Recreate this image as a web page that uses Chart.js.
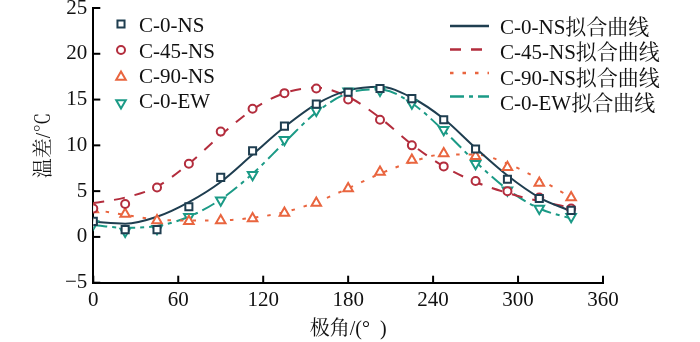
<!DOCTYPE html>
<html><head><meta charset="utf-8">
<script src="https://cdn.jsdelivr.net/npm/chart.js@4/dist/chart.umd.min.js"></script>
<style>html,body{margin:0;padding:0;background:#fff}</style>
</head><body>
<canvas id="c" width="700" height="342" style="width:700px;height:342px;display:block"></canvas>
<script>
// ---- data ----
const angles = [0, 22.5, 45, 67.5, 90, 112.5, 135, 157.5, 180, 202.5, 225, 247.5, 270, 292.5, 315, 337.5];
const xTicks = [0, 60, 120, 180, 240, 300, 360];
const yTicks = [-5, 0, 5, 10, 15, 20, 25];

const seriesNames = ['C-0-NS', 'C-45-NS', 'C-90-NS', 'C-0-EW'];
const fitNames = ['C-0-NS拟合曲线', 'C-45-NS拟合曲线', 'C-90-NS拟合曲线', 'C-0-EW拟合曲线'];

const ns0  = [1.7, 0.8, 0.8, 3.3, 6.5, 9.4, 12.1, 14.5, 15.8, 16.2, 15.1, 12.8, 9.6, 6.3, 4.2, 2.9];
const ns45 = [3.1, 3.6, 5.4, 8.0, 11.5, 14.0, 15.7, 16.2, 15.0, 12.8, 10.0, 7.7, 6.1, 5.0, 4.3, 3.1];
const ns90 = [3.0, 2.5, 1.8, 1.7, 1.8, 2.0, 2.6, 3.7, 5.3, 7.1, 8.4, 9.1, 8.8, 7.6, 5.9, 4.3];
const ew0  = [1.4, 0.6, 0.9, 2.2, 4.0, 6.8, 10.6, 13.8, 15.9, 16.0, 14.6, 11.7, 8.0, 5.1, 3.1, 2.2];

const fitNs0  = [1.65, 1.45, 2.2, 3.8, 6.0, 9.0, 12.0, 14.5, 16.0, 16.4, 15.2, 12.9, 9.7, 6.7, 4.3, 2.8];
const fitNs45 = [3.7, 4.3, 5.5, 8.0, 11.1, 13.9, 15.7, 16.3, 15.3, 13.0, 10.1, 7.7, 6.0, 4.8, 3.9, 3.2];
const fitNs90 = [3.0, 2.4, 1.9, 1.8, 1.8, 2.1, 2.7, 3.8, 5.3, 6.9, 8.2, 9.0, 9.0, 8.0, 6.3, 4.3];
const fitEw0  = [1.3, 1.0, 1.2, 2.2, 4.1, 6.9, 10.3, 13.6, 15.7, 16.1, 14.6, 11.6, 8.2, 5.2, 3.1, 2.0];

// ---- styles ----
const C_NS0 = '#1f3e50', C_NS45 = '#b32d3d', C_NS90 = '#e9653f', C_EW0 = '#1b9a86';
const SERIF = '"Liberation Serif", "Times New Roman", "Noto Serif CJK SC", "Noto Sans CJK SC", serif';

const pts = (arr) => arr.map((v, i) => ({x: angles[i], y: v}));

function scatterDs(label, data, color, style, rotation, radius) {
  return {label, data: pts(data), showLine: false, pointStyle: style, rotation,
    pointRadius: radius, pointHoverRadius: radius, pointBorderWidth: 2,
    pointBorderColor: color, pointBackgroundColor: '#ffffff', borderColor: color, order: 0};
}
function fitDs(label, data, color, dash) {
  return {label, data: pts(data), showLine: true, pointRadius: 0, borderWidth: 2,
    borderColor: color, borderDash: dash, cubicInterpolationMode: 'monotone',
    borderCapStyle: 'butt', fill: false, order: 1};
}

const datasets = [
  scatterDs(seriesNames[0], ns0, C_NS0, 'rect', 0, 5),
  scatterDs(seriesNames[1], ns45, C_NS45, 'circle', 0, 4),
  scatterDs(seriesNames[2], ns90, C_NS90, 'triangle', 0, 5.5),
  scatterDs(seriesNames[3], ew0, C_EW0, 'triangle', 180, 5.5),
  fitDs(fitNames[0], fitNs0, C_NS0, []),
  fitDs(fitNames[1], fitNs45, C_NS45, [11, 10]),
  fitDs(fitNames[2], fitNs90, C_NS90, [3.5, 9]),
  fitDs(fitNames[3], fitEw0, C_EW0, [14, 5, 4, 5]),
];

// inward tick marks
const innerTicks = {
  id: 'innerTicks',
  afterDraw(chart) {
    const {ctx, chartArea: a} = chart;
    const xs = chart.scales.x, ys = chart.scales.y;
    ctx.save();
    ctx.strokeStyle = '#000'; ctx.lineWidth = 2;
    xs.ticks.forEach(t => {
      const p = xs.getPixelForValue(t.value);
      ctx.beginPath(); ctx.moveTo(p, a.bottom); ctx.lineTo(p, a.bottom - 7); ctx.stroke();
    });
    ys.ticks.forEach(t => {
      const p = ys.getPixelForValue(t.value);
      ctx.beginPath(); ctx.moveTo(a.left, p); ctx.lineTo(a.left + 7, p); ctx.stroke();
    });
    ctx.restore();
  }
};

// custom two-column legend
const customLegend = {
  id: 'customLegend',
  afterDraw(chart) {
    const ctx = chart.ctx;
    const ds = chart.data.datasets;
    ctx.save();
    ctx.font = '21px ' + SERIF;
    ctx.textBaseline = 'middle';
    ctx.textAlign = 'left';
    const leftMarkerY = [24, 50, 77, 103];
    const leftTextY = [26, 52.5, 77.5, 102.5];
    for (let i = 0; i < 4; i++) {
      const d = ds[i];
      ctx.strokeStyle = d.pointBorderColor; ctx.lineWidth = 2; ctx.fillStyle = '#fff';
      Chart.helpers.drawPoint(ctx, {pointStyle: d.pointStyle, rotation: d.rotation, radius: d.pointRadius, borderWidth: 2},
        121, leftMarkerY[i]);
      ctx.fillStyle = '#111';
      ctx.fillText(d.label, 139, leftTextY[i]);
    }
    const lineY = [26, 49.5, 73, 96.5];
    const textY = [28.5, 53, 79.5, 104.5];
    for (let i = 0; i < 4; i++) {
      const d = ds[4 + i];
      ctx.strokeStyle = d.borderColor; ctx.lineWidth = 2.5; ctx.lineCap = 'butt';
      ctx.setLineDash(d.borderDash);
      ctx.beginPath(); ctx.moveTo(450, lineY[i]); ctx.lineTo(489, lineY[i]); ctx.stroke();
      ctx.setLineDash([]);
      ctx.fillStyle = '#111';
      ctx.fillText(d.label, 500, textY[i]);
    }
    ctx.restore();
  }
};

new Chart(document.getElementById('c'), {
  type: 'scatter',
  data: {datasets},
  options: {
    responsive: false, animation: false, devicePixelRatio: 1,
    layout: {padding: {top: 8, right: 97, bottom: 0, left: 0}},
    plugins: {legend: {display: false}, tooltip: {enabled: false}},
    scales: {
      x: {
        type: 'linear', min: 0, max: 360,
        afterBuildTicks: s => { s.ticks = xTicks.map(v => ({value: v})); },
        afterFit: s => { s.height = 59.3; s.paddingLeft = 0; s.paddingRight = 0; },
        grid: {display: false, drawTicks: false},
        border: {display: true, color: '#000', width: 2},
        ticks: {color: '#111', padding: 5, maxRotation: 0, autoSkip: false,
          font: {family: SERIF, size: 21}},
        title: {display: true, text: '极角/(°  )', color: '#111',
          font: {family: SERIF, size: 20}, padding: {top: 0, bottom: 0}}
      },
      y: {
        type: 'linear', min: -5, max: 25,
        afterBuildTicks: s => { s.ticks = yTicks.map(v => ({value: v})); },
        afterFit: s => { s.width = 93.3; s.paddingTop = 0; s.paddingBottom = 0; },
        grid: {display: false, drawTicks: false},
        border: {display: true, color: '#000', width: 2},
        ticks: {color: '#111', padding: 6, autoSkip: false,
          font: {family: SERIF, size: 21},
          callback: v => v < 0 ? '\u2212' + Math.abs(v) : String(v)},
        title: {display: true, text: '温差/℃', color: '#111',
          font: {family: SERIF, size: 20}, padding: {top: 33, bottom: 0}}
      }
    }
  },
  plugins: [innerTicks, customLegend]
});
</script>
</body></html>
